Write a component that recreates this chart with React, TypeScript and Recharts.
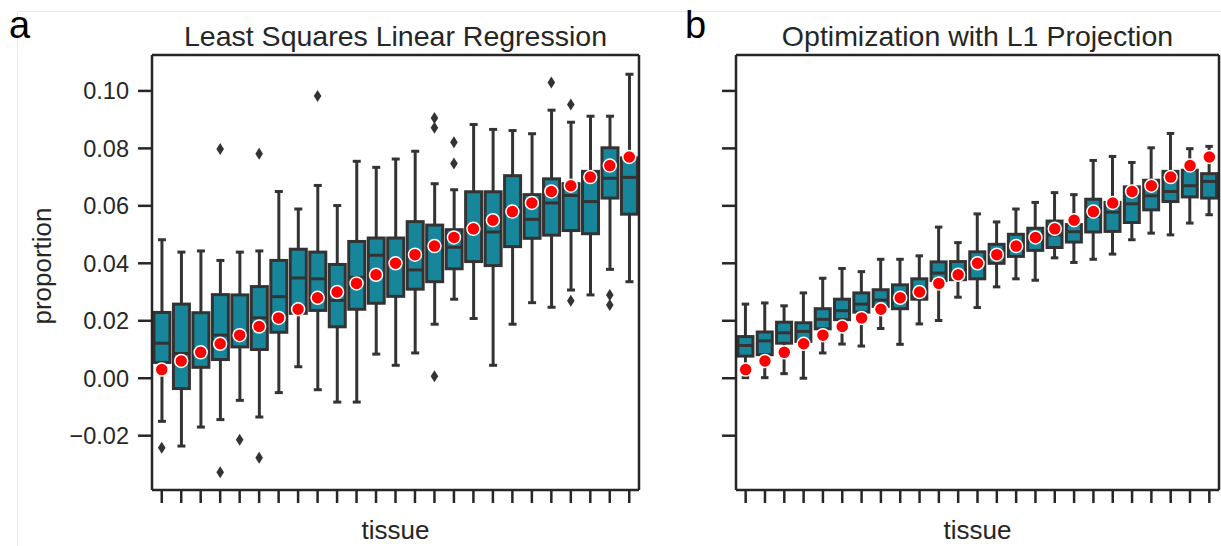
import React from "react";
import { ComposedChart, Bar, Scatter, XAxis, YAxis } from "recharts";

const TISSUES = [
  "T01", "T02", "T03", "T04", "T05", "T06", "T07", "T08", "T09", "T10",
  "T11", "T12", "T13", "T14", "T15", "T16", "T17", "T18", "T19", "T20",
  "T21", "T22", "T23", "T24", "T25",
];

// true proportion per tissue (red dots)
const TRUTH = [
  0.003, 0.006, 0.009, 0.012, 0.015, 0.018, 0.021, 0.024, 0.028, 0.030,
  0.033, 0.036, 0.040, 0.043, 0.046, 0.049, 0.052, 0.055, 0.058, 0.061,
  0.065, 0.067, 0.070, 0.074, 0.077,
];

// panel a: least squares
const LS_LOW = [
  -0.0150, -0.0236, -0.0170, -0.0144, -0.0077, -0.0135, -0.0050, 0.0040, -0.0040, -0.0083,
  -0.0083, 0.0084, 0.0045, 0.0088, 0.0188, 0.0275, 0.0208, 0.0045, 0.0188, 0.0263,
  0.0247, 0.0307, 0.0290, 0.0379, 0.0336,
];
const LS_Q1 = [
  0.0055, -0.0036, 0.0038, 0.0065, 0.0109, 0.0100, 0.0160, 0.0226, 0.0236, 0.0179,
  0.0240, 0.0261, 0.0285, 0.0310, 0.0336, 0.0381, 0.0406, 0.0392, 0.0458, 0.0487,
  0.0498, 0.0514, 0.0503, 0.0627, 0.0571,
];
const LS_MEDIAN = [
  0.0122, 0.0086, 0.0092, 0.0150, 0.0150, 0.0210, 0.0284, 0.0349, 0.0346, 0.0271,
  0.0351, 0.0428, 0.0394, 0.0377, 0.0453, 0.0456, 0.0522, 0.0509, 0.0591, 0.0553,
  0.0610, 0.0636, 0.0615, 0.0696, 0.0699,
];
const LS_Q3 = [
  0.0229, 0.0258, 0.0228, 0.0291, 0.0290, 0.0319, 0.0410, 0.0449, 0.0439, 0.0396,
  0.0476, 0.0488, 0.0488, 0.0545, 0.0533, 0.0517, 0.0649, 0.0649, 0.0705, 0.0639,
  0.0694, 0.0677, 0.0720, 0.0802, 0.0767,
];
const LS_HIGH = [
  0.0482, 0.0439, 0.0443, 0.0410, 0.0439, 0.0443, 0.0650, 0.0589, 0.0671, 0.0601,
  0.0755, 0.0734, 0.0763, 0.0790, 0.0677, 0.0656, 0.0883, 0.0866, 0.0862, 0.0851,
  0.0933, 0.0891, 0.0912, 0.0912, 0.1058,
];
const LS_OUTLIER_TISSUE = [
  "T01", "T04", "T04", "T05", "T06", "T06", "T09", "T15", "T15", "T15",
  "T16", "T16", "T21", "T22", "T22", "T24", "T24",
];
const LS_OUTLIER_VALUE = [
  -0.0242, 0.0798, -0.0327, -0.0214, 0.0781, -0.0277, 0.0982, 0.0906, 0.0872, 0.0007,
  0.0821, 0.0747, 0.1029, 0.0953, 0.0270, 0.0290, 0.0255,
];

// panel b: optimization with L1 projection
const L1_LOW = [
  0.0002, 0.0002, 0.0016, 0.0000, 0.0088, 0.0119, 0.0112, 0.0173, 0.0118, 0.0189,
  0.0201, 0.0282, 0.0246, 0.0318, 0.0346, 0.0341, 0.0419, 0.0403, 0.0414, 0.0432,
  0.0482, 0.0505, 0.0499, 0.0540, 0.0569,
];
const L1_Q1 = [
  0.0077, 0.0082, 0.0122, 0.0128, 0.0172, 0.0204, 0.0230, 0.0250, 0.0242, 0.0275,
  0.0340, 0.0343, 0.0346, 0.0400, 0.0424, 0.0445, 0.0455, 0.0474, 0.0509, 0.0511,
  0.0542, 0.0586, 0.0615, 0.0631, 0.0627,
];
const L1_MEDIAN = [
  0.0114, 0.0130, 0.0158, 0.0163, 0.0205, 0.0235, 0.0258, 0.0272, 0.0280, 0.0308,
  0.0366, 0.0370, 0.0400, 0.0431, 0.0456, 0.0486, 0.0499, 0.0510, 0.0563, 0.0578,
  0.0607, 0.0635, 0.0650, 0.0670, 0.0685,
];
const L1_Q3 = [
  0.0145, 0.0161, 0.0195, 0.0193, 0.0242, 0.0275, 0.0297, 0.0308, 0.0325, 0.0346,
  0.0405, 0.0406, 0.0440, 0.0466, 0.0501, 0.0522, 0.0547, 0.0535, 0.0623, 0.0612,
  0.0666, 0.0689, 0.0720, 0.0724, 0.0712,
];
const L1_HIGH = [
  0.0258, 0.0262, 0.0252, 0.0297, 0.0348, 0.0382, 0.0371, 0.0414, 0.0414, 0.0426,
  0.0526, 0.0472, 0.0572, 0.0544, 0.0589, 0.0612, 0.0646, 0.0639, 0.0758, 0.0772,
  0.0751, 0.0802, 0.0852, 0.0799, 0.0807,
];

const Y_TICKS = [-0.02, 0, 0.02, 0.04, 0.06, 0.08, 0.1];
const Y_DOMAIN = [-0.0389, 0.1125];

const TEAL = "#17869a";
const EDGE = "#333333";
const INK = "#262626";
const FONT = "'Liberation Sans', Arial, sans-serif";

const buildRows = (
  lo: number[],
  q1: number[],
  med: number[],
  q3: number[],
  hi: number[]
) =>
  TISSUES.map((t, i) => ({
    tissue: t,
    lo: lo[i],
    q1: q1[i],
    med: med[i],
    q3: q3[i],
    hi: hi[i],
    truth: TRUTH[i],
  }));

const lsRows = buildRows(LS_LOW, LS_Q1, LS_MEDIAN, LS_Q3, LS_HIGH);
const l1Rows = buildRows(L1_LOW, L1_Q1, L1_MEDIAN, L1_Q3, L1_HIGH);
const lsOutliers = LS_OUTLIER_TISSUE.map((t, i) => ({ tissue: t, v: LS_OUTLIER_VALUE[i] }));

// box drawn inside the whisker range bar; positions follow the bar's own pixels
const BoxShape = (props: any) => {
  const { x, y, width, height, payload } = props;
  if (!payload || width == null) return null;
  const top = Math.min(y, y + height);
  const bottom = Math.max(y, y + height);
  const span = payload.hi - payload.lo;
  const py = (v: number) => top + ((payload.hi - v) / span) * (bottom - top);
  const cx = x + width / 2;
  const cap = width / 4;
  const yQ3 = py(payload.q3);
  const yQ1 = py(payload.q1);
  const yMed = py(payload.med);
  return (
    <g stroke={EDGE} strokeWidth={3}>
      <line x1={cx} x2={cx} y1={top} y2={yQ3} />
      <line x1={cx} x2={cx} y1={yQ1} y2={bottom} />
      <line x1={cx - cap} x2={cx + cap} y1={top} y2={top} />
      <line x1={cx - cap} x2={cx + cap} y1={bottom} y2={bottom} />
      <rect x={x} y={yQ3} width={width} height={yQ1 - yQ3} fill={TEAL} />
      <line x1={x} x2={x + width} y1={yMed} y2={yMed} />
    </g>
  );
};

const TruthDot = (p: any) =>
  p.cx == null ? null : (
    <circle cx={p.cx} cy={p.cy} r={6.5} fill="#ff0000" stroke="#ffffff" strokeWidth={1.5} />
  );

const Diamond = (p: any) =>
  p.cx == null ? null : (
    <path
      d={`M${p.cx},${p.cy - 6} L${p.cx + 3.8},${p.cy} L${p.cx},${p.cy + 6} L${p.cx - 3.8},${p.cy} Z`}
      fill={EDGE}
    />
  );

const fmtTick = (v: number) => (v < 0 ? "\u2212" : "") + Math.abs(v).toFixed(2);

const axisStroke = { stroke: INK, strokeWidth: 2.5 };

interface PanelProps {
  rows: ReturnType<typeof buildRows>;
  outliers?: { tissue: string; v: number }[];
  width: number;
  yAxisWidth: number;
  rightMargin: number;
  showYLabels: boolean;
}

const BoxPanel: React.FC<PanelProps> = ({
  rows,
  outliers,
  width,
  yAxisWidth,
  rightMargin,
  showYLabels,
}) => (
  <ComposedChart
    width={width}
    height={546}
    data={rows}
    margin={{ top: 54, right: rightMargin, bottom: 0, left: 0 }}
    barCategoryGap="10%"
  >
    <XAxis
      dataKey="tissue"
      type="category"
      allowDuplicatedCategory={false}
      interval={0}
      height={56}
      tickSize={13}
      tickFormatter={() => ""}
      axisLine={axisStroke}
      tickLine={axisStroke}
    />
    <XAxis
      xAxisId="top"
      dataKey="tissue"
      type="category"
      allowDuplicatedCategory={false}
      orientation="top"
      height={1}
      tick={false}
      tickLine={false}
      axisLine={axisStroke}
    />
    <YAxis
      type="number"
      domain={Y_DOMAIN}
      allowDataOverflow
      ticks={Y_TICKS}
      width={yAxisWidth}
      tickSize={14}
      tickMargin={9}
      tickFormatter={showYLabels ? fmtTick : () => ""}
      tick={{ fontSize: 23.5, fill: INK, fontFamily: FONT }}
      axisLine={axisStroke}
      tickLine={axisStroke}
    />
    <YAxis
      yAxisId="right"
      orientation="right"
      type="number"
      domain={Y_DOMAIN}
      allowDataOverflow
      width={1}
      tick={false}
      tickLine={false}
      axisLine={axisStroke}
    />
    <Bar
      dataKey={(d: any) => [d.lo, d.hi]}
      shape={BoxShape}
      isAnimationActive={false}
    />
    {outliers ? (
      <Scatter
        data={outliers}
        dataKey="v"
        shape={Diamond}
        isAnimationActive={false}
      />
    ) : null}
    <Scatter dataKey="truth" shape={TruthDot} isAnimationActive={false} />
  </ComposedChart>
);

const App: React.FC = () => (
  <div
    style={{
      position: "absolute",
      left: 0,
      top: 0,
      width: 1221,
      height: 546,
      background: "#ffffff",
      fontFamily: FONT,
      overflow: "hidden",
    }}
  >
    <div style={{ position: "absolute", left: 0, top: 0 }}>
      <BoxPanel
        rows={lsRows}
        outliers={lsOutliers}
        width={660}
        yAxisWidth={152}
        rightMargin={20}
        showYLabels
      />
    </div>
    <div style={{ position: "absolute", left: 660, top: 0 }}>
      <BoxPanel
        rows={l1Rows}
        width={561}
        yAxisWidth={76}
        rightMargin={1}
        showYLabels={false}
      />
    </div>
    <svg
      width={1221}
      height={546}
      style={{ position: "absolute", left: 0, top: 0, pointerEvents: "none" }}
    >
      <line x1={17.5} y1={11.5} x2={1221} y2={11.5} stroke="#e8e8e8" strokeWidth={1} />
      <line x1={17.5} y1={11.5} x2={17.5} y2={546} stroke="#e8e8e8" strokeWidth={1} />
      <text x={9} y={38} fontSize={38} fill="#000">a</text>
      <text x={685} y={38} fontSize={38} fill="#000">b</text>
      <text x={395.5} y={46} fontSize={28.5} fill={INK} textAnchor="middle">
        Least Squares Linear Regression
      </text>
      <text x={977.5} y={46} fontSize={28.5} fill={INK} textAnchor="middle">
        Optimization with L1 Projection
      </text>
      <text
        x={51}
        y={266}
        fontSize={26}
        fill={INK}
        textAnchor="middle"
        transform="rotate(-90 51 266)"
      >
        proportion
      </text>
      <text x={395.5} y={539} fontSize={26} fill={INK} textAnchor="middle">
        tissue
      </text>
      <text x={977.5} y={539} fontSize={26} fill={INK} textAnchor="middle">
        tissue
      </text>
    </svg>
  </div>
);

export default App;
